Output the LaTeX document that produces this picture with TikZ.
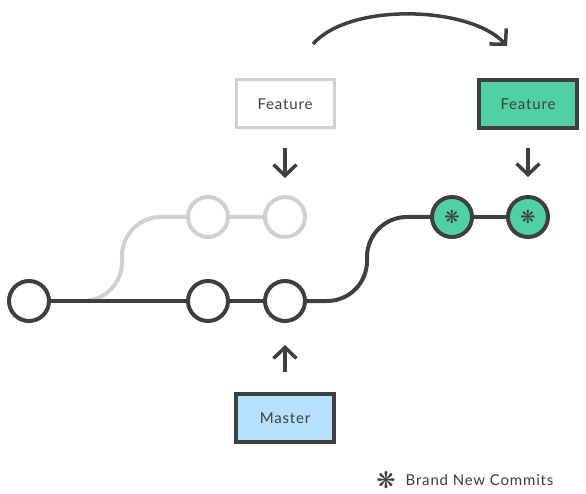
\documentclass[tikz,border=0pt]{standalone}
\usepackage{fontspec}
\setmainfont[LetterSpace=5.5]{Lato}
\newfontfamily\symfont{DejaVu Sans}
\usetikzlibrary{arrows.meta, positioning}

\definecolor{ink}{HTML}{3F3F3F}
\definecolor{faded}{HTML}{D0D0D0}
\definecolor{newgreen}{HTML}{4FD1A0}
\definecolor{masterblue}{HTML}{B5E1FF}

\newcommand{\newmark}{{\symfont\bfseries\fontsize{18}{18}\selectfont ❋}}

\begin{document}
\begin{tikzpicture}[
    x=1pt, y=-1pt,
    every node/.style={font=\fontsize{15}{18}\selectfont, text=ink},
    commit/.style={circle, draw=ink, fill=white, line width=4pt, minimum size=40pt, inner sep=0pt, outer sep=0pt},
    oldcommit/.style={commit, draw=faded},
    newcommit/.style={commit, fill=newgreen},
    tagbox/.style={rectangle, draw=ink, line width=4pt, minimum width=98pt, minimum height=48pt, outer sep=0pt},
    oldtag/.style={tagbox, draw=faded, line width=3pt, fill=white},
    pointer/.style={-{Straight Barb[length=11pt, width=23pt]}, line width=3.5pt, draw=ink},
    branch/.style={line width=4pt, draw=ink},
    oldbranch/.style={line width=4pt, draw=faded}
]
\useasboundingbox (0,0) rectangle (586,494);

% commits on master
\node[commit] (c1) at (29,301) {};
\node[commit, right=139pt of c1] (c2) {};
\node[commit, right=37pt of c2] (c3) {};

% old feature commits
\node[oldcommit, above=44pt of c2] (g1) {};
\node[oldcommit, right=37pt of g1] (g2) {};

% rebased commits
\node[newcommit, right=127pt of g2] (n1) {\newmark};
\node[newcommit, right=36pt of n1] (n2) {\newmark};

% branch tags
\node[oldtag, above=69pt of g2] (fold) {Feature};
\node[tagbox, fill=newgreen, above=69pt of n2] (fnew) {Feature};
\node[tagbox, fill=masterblue, below=73pt of c3] (master) {Master};

% history lines
\coordinate (fork) at (83,301);
\draw[oldbranch, rounded corners=39pt] (fork) -- ++(39,0) |- (g1);
\draw[oldbranch] (g1) -- (g2);
\draw[branch] (c1) -- (c2);
\draw[branch] (c2) -- (c3);
\draw[branch, rounded corners=40pt] (c3) -- ++(82,0) |- (n1);
\draw[branch] (n1) -- (n2);

% pointers
\draw[pointer, shorten <=20pt, shorten >=19pt] (fold.south) -- (g2.north);
\draw[pointer, shorten <=20pt, shorten >=20pt] (fnew.south) -- (n2.north);
\draw[pointer, shorten <=22pt, shorten >=24pt] (master.north) -- (c3.south);

% move arrow
\coordinate (movefrom) at (313,44);
\coordinate (moveto) at (507,46);
\draw[pointer] (movefrom) .. controls (350,2) and (470,6) .. (moveto);

% legend
\node (legstar) at (386,480) {\symfont\bfseries\fontsize{23}{23}\selectfont ❋};
\node[right=3pt of legstar] (legtext) {Brand New Commits};

\end{tikzpicture}
\end{document}
